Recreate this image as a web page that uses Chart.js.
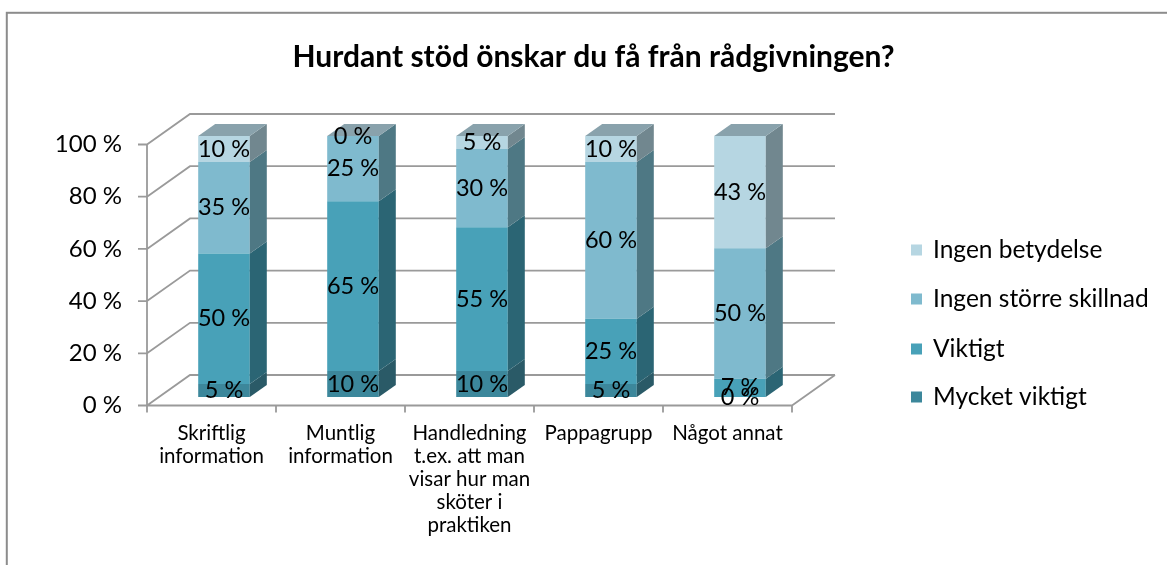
<!DOCTYPE html>
<html>
<head>
<meta charset="utf-8">
<script src="https://cdn.jsdelivr.net/npm/chart.js@4.4.1/dist/chart.umd.min.js"></script>
<style>
  body { margin: 0; background: #fff; }
</style>
</head>
<body>
<canvas id="myChart" width="1167" height="565"></canvas>
<script>
var categories = [
    ['Skriftlig', 'information'],
    ['Muntlig', 'information'],
    ['Handledning', 't.ex. att man', 'visar hur man', 'sköter i', 'praktiken'],
    'Pappagrupp',
    'Något annat'
];
var seriesNames = ['Mycket viktigt', 'Viktigt', 'Ingen större skillnad', 'Ingen betydelse'];
var mycketViktigt = [5, 10, 10, 5, 0];
var viktigt = [50, 65, 55, 25, 7];
var ingenStorreSkillnad = [35, 25, 30, 60, 50];
var ingenBetydelse = [10, 0, 5, 10, 43];
var yTicks = [0, 20, 40, 60, 80, 100];

var frontColors = ['#3c879b', '#48a1b8', '#7fbace', '#b6d6e2'];
var sideColors = ['#2a5a67', '#2b6574', '#4e7884', '#71878f'];
var topColor = '#89a2ac';
var gridColor = '#9a9a9a';
var fontName = 'Lato';

// 3d look: front axis sits a bit left/below the bar faces
var barShift = {x: 12.5, y: 8.5};
var wallDepth = {x: 43, y: -30.5};
var barDepth = {x: 17, y: -12};

var walls3d = {
    id: 'walls3d',
    beforeDraw: function(chart) {
        var ctx = chart.ctx;
        ctx.save();
        ctx.fillStyle = '#fff';
        ctx.fillRect(0, 0, chart.width, chart.height);
        ctx.strokeStyle = '#8c8c8c';
        ctx.lineWidth = 2;
        ctx.strokeRect(6.8, 12.8, 1300, 700);
        ctx.restore();
    },
    beforeDatasetsDraw: function(chart) {
        var ctx = chart.ctx;
        var xs = chart.scales.x, ys = chart.scales.y;
        var w = xs.width / categories.length;
        var fx0 = xs.left - barShift.x;
        var fx1 = fx0 + w * categories.length;
        var fy = function(v) { return ys.getPixelForValue(v) + barShift.y; };
        ctx.save();
        ctx.strokeStyle = gridColor;
        ctx.lineWidth = 1.8;
        ctx.beginPath();
        yTicks.forEach(function(v) {
            ctx.moveTo(fx0, fy(v));
            ctx.lineTo(fx0 + wallDepth.x, fy(v) + wallDepth.y);
            ctx.lineTo(fx1 + wallDepth.x, fy(v) + wallDepth.y);
            // tick mark on front axis
            ctx.moveTo(fx0 - 9, fy(v));
            ctx.lineTo(fx0, fy(v));
        });
        ctx.moveTo(fx1, fy(0));
        ctx.lineTo(fx1 + wallDepth.x, fy(0) + wallDepth.y);
        ctx.moveTo(fx0, fy(100));
        ctx.lineTo(fx0, fy(0));
        ctx.lineTo(fx1, fy(0));
        for (var i = 0; i <= categories.length; i++) {
            ctx.moveTo(fx0 + i * w, fy(0));
            ctx.lineTo(fx0 + i * w, fy(0) + 7);
        }
        ctx.stroke();
        ctx.restore();
    },
    afterDatasetsDraw: function(chart) {
        var ctx = chart.ctx;
        var n = chart.data.datasets.length;
        ctx.save();
        chart.data.datasets.forEach(function(ds, di) {
            var meta = chart.getDatasetMeta(di);
            meta.data.forEach(function(bar) {
                var r = bar.x + bar.width / 2;
                ctx.fillStyle = sideColors[di];
                ctx.beginPath();
                ctx.moveTo(r, bar.base);
                ctx.lineTo(r, bar.y);
                ctx.lineTo(r + barDepth.x, bar.y + barDepth.y);
                ctx.lineTo(r + barDepth.x, bar.base + barDepth.y);
                ctx.closePath();
                ctx.fill();
                if (di === n - 1) {
                    var l = bar.x - bar.width / 2;
                    ctx.fillStyle = topColor;
                    ctx.beginPath();
                    ctx.moveTo(l, bar.y);
                    ctx.lineTo(r, bar.y);
                    ctx.lineTo(r + barDepth.x, bar.y + barDepth.y);
                    ctx.lineTo(l + barDepth.x, bar.y + barDepth.y);
                    ctx.closePath();
                    ctx.fill();
                }
            });
        });
        // value labels
        ctx.fillStyle = '#000';
        ctx.font = '23.5px ' + fontName;
        ctx.textAlign = 'center';
        ctx.textBaseline = 'middle';
        chart.data.datasets.forEach(function(ds, di) {
            var meta = chart.getDatasetMeta(di);
            meta.data.forEach(function(bar, i) {
                ctx.fillText(ds.data[i] + ' %', bar.x, (bar.y + bar.base) / 2);
            });
        });
        // legend, top item is the last series
        ctx.font = '24.5px ' + fontName;
        ctx.textAlign = 'left';
        var ly = [250, 299, 349, 397];
        for (var k = 0; k < n; k++) {
            var d = n - 1 - k;
            ctx.fillStyle = frontColors[d];
            ctx.fillRect(911, ly[k] - 5.5, 11, 11);
            ctx.fillStyle = '#000';
            ctx.fillText(chart.data.datasets[d].label, 933, ly[k]);
        }
        ctx.restore();
    }
};

var chartdata = {
    labels: categories,
    datasets: [
        {label: seriesNames[0], data: mycketViktigt, backgroundColor: frontColors[0]},
        {label: seriesNames[1], data: viktigt, backgroundColor: frontColors[1]},
        {label: seriesNames[2], data: ingenStorreSkillnad, backgroundColor: frontColors[2]},
        {label: seriesNames[3], data: ingenBetydelse, backgroundColor: frontColors[3]}
    ]
};

var options = {
    responsive: false,
    animation: false,
    devicePixelRatio: 1,
    layout: {padding: {left: 20, right: 0, top: 0, bottom: 0}},
    datasets: {bar: {barPercentage: 0.4, categoryPercentage: 1, borderWidth: 0}},
    plugins: {
        legend: {display: false},
        tooltip: {enabled: false},
        title: {
            display: true,
            text: 'Hurdant stöd önskar du få från rådgivningen?',
            color: '#000',
            font: {family: fontName, size: 30, weight: 'bold', lineHeight: 1.2},
            padding: {top: 39, bottom: 61}
        }
    },
    scales: {
        x: {
            stacked: true,
            grid: {display: false, drawTicks: false},
            border: {display: false},
            ticks: {
                color: '#000',
                font: {family: fontName, size: 20.5, lineHeight: 1.125},
                padding: 25,
                labelOffset: -barShift.x,
                maxRotation: 0,
                autoSkip: false
            },
            afterFit: function(s) { s.height = 168; }
        },
        y: {
            stacked: true,
            min: 0,
            max: 100,
            grid: {display: false, drawTicks: false},
            border: {display: false},
            ticks: {
                stepSize: 20,
                color: '#000',
                font: {family: fontName, size: 24},
                padding: 37.5,
                labelOffset: barShift.y,
                callback: function(v) { return v + ' %'; }
            },
            afterFit: function(s) { s.width = 139.5; }
        },
        yR: {
            position: 'right',
            display: true,
            grid: {display: false, drawTicks: false},
            border: {display: false},
            ticks: {display: false},
            afterFit: function(s) { s.width = 362.5; }
        }
    }
};

var graph = new Chart(document.getElementById('myChart'), {
    type: 'bar',
    data: chartdata,
    options: options,
    plugins: [walls3d]
});
</script>
</body>
</html>
